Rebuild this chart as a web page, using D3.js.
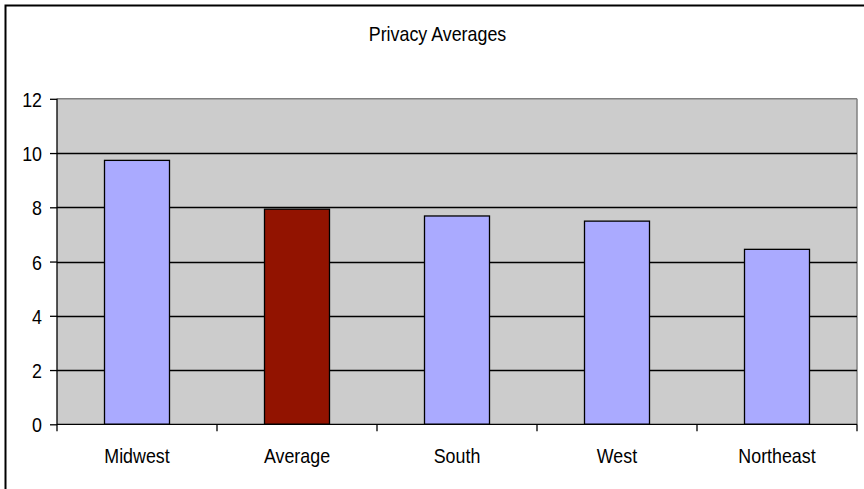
<!DOCTYPE html>
<html><head><meta charset="utf-8">
<script src="https://cdn.jsdelivr.net/npm/d3@7"></script>
<style>body{margin:0;background:#fff}svg{display:block}text{font-family:"Liberation Sans",Arial,sans-serif;fill:#000}</style>
</head><body>
<script>
const categories = ["Midwest","Average","South","West","Northeast"];
const values = [9.73, 7.93, 7.68, 7.49, 6.45];
const barColors = ["#AAAAFF","#921300","#AAAAFF","#AAAAFF","#AAAAFF"];
const yTicks = [0,2,4,6,8,10,12];
const title = "Privacy Averages";

const W=864,H=489;
const FS=21, SX=0.85;
const svg=d3.select("body").append("svg").attr("width",W).attr("height",H);
svg.append("rect").attr("x",5.5).attr("y",5.5).attr("width",W+20).attr("height",H+20).attr("fill","none").attr("stroke","#000").attr("stroke-width",2);

const L=57,R=857,T=98.8,B=424.3;
const x=d3.scaleBand().domain(categories).range([L,R]);
const y=d3.scaleLinear().domain([0,12]).range([B,T]);

function label(g,tx,ty,txt,anchor){
  return g.append("text").attr("transform",`translate(${tx},${ty}) scale(${SX},1)`)
   .attr("text-anchor",anchor).attr("font-size",FS).text(txt);
}

svg.append("rect").attr("x",L).attr("y",T).attr("width",R-L).attr("height",B-T).attr("fill","#CCCCCC");
svg.append("line").attr("x1",L).attr("x2",R).attr("y1",T).attr("y2",T).attr("stroke","#808080").attr("stroke-width",1.5);
svg.append("line").attr("x1",R).attr("x2",R).attr("y1",T).attr("y2",B).attr("stroke","#808080").attr("stroke-width",1.5);

svg.append("g").selectAll("line").data(yTicks.filter(d=>d>0&&d<12)).join("line")
 .attr("x1",L).attr("x2",R).attr("y1",d=>Math.round(y(d))+0.5).attr("y2",d=>Math.round(y(d))+0.5).attr("stroke","#000").attr("stroke-width",1.3);

const bw=65;
svg.append("g").selectAll("rect").data(categories).join("rect")
 .attr("x",(d)=>x(d)+x.bandwidth()/2-bw/2).attr("width",bw)
 .attr("y",(d,i)=>y(values[i])).attr("height",(d,i)=>B-y(values[i]))
 .attr("fill",(d,i)=>barColors[i]).attr("stroke","#000").attr("stroke-width",1.3);

const yAxis=svg.append("g").attr("transform",`translate(${L},0)`).call(d3.axisLeft(y).tickValues(yTicks).tickSize(7).tickFormat(d3.format("d")));
yAxis.select(".domain").attr("stroke","#000").attr("stroke-width",1.3).attr("d",`M0,${T}V${B}`);
yAxis.selectAll(".tick line").attr("stroke-width",1.3);
yAxis.selectAll(".tick text").remove();
yAxis.selectAll(".tick").each(function(d){ label(d3.select(this),-15,7.5,String(d),"end"); });

const xAxis=svg.append("g").attr("transform",`translate(0,${B})`);
xAxis.append("line").attr("x1",L).attr("x2",R).attr("stroke","#000").attr("stroke-width",1.3);
const bounds=categories.map(c=>x(c)).concat([R]);
xAxis.selectAll("line.t").data(bounds).join("line").attr("class","t").attr("x1",d=>d).attr("x2",d=>d).attr("y1",0).attr("y2",7).attr("stroke","#000").attr("stroke-width",1.3);
categories.forEach(c=>label(xAxis,x(c)+x.bandwidth()/2,38.5,c,"middle"));

label(svg,437.5,41,title,"middle");
</script>
</body></html>
